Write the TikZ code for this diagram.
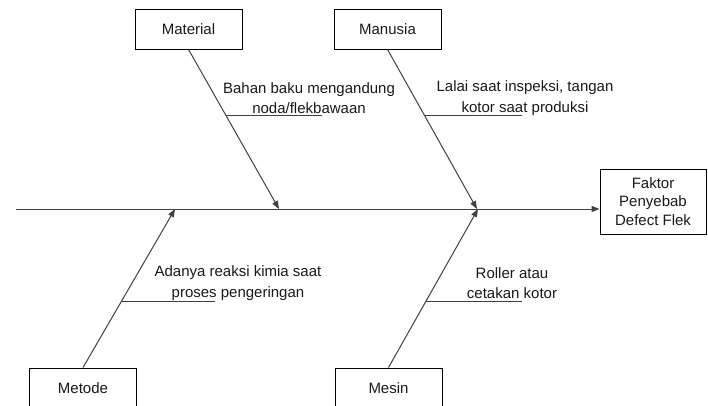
\documentclass[tikz,border=0pt]{standalone}
\usepackage{fontspec}
\setmainfont{Liberation Sans}
\usetikzlibrary{arrows.meta,calc}
\begin{document}
\begin{tikzpicture}[x=1pt,y=-1pt,
  box/.style={draw=black, line width=0.9pt, minimum width=107pt, minimum height=40pt, inner sep=0pt, font=\fontsize{15}{16}\selectfont, text=black!90},
  lbl/.style={align=center, inner sep=0pt, font=\fontsize{15}{20.5}\selectfont, text=black!90},
  bone/.style={draw=black!75, line width=1pt},
  arr/.style={-{Triangle[length=8pt,width=6pt]}}]
\useasboundingbox (0,0) rectangle (708,405);
\clip (0,0) rectangle (708,405);
% boxes
\node[box] (mat) at (188.5,29) {Material};
\node[box] (man) at (387.5,29) {Manusia};
\node[box] (met) at (83,388) {Metode};
\node[box] (mes) at (388.5,388) {Mesin};
\node[box, minimum width=106pt, minimum height=65pt, align=center, font=\fontsize{15}{18.5}\selectfont] (eff) at (653,201.5) {Faktor\\Penyebab\\Defect Flek};
% spine
\coordinate (s0) at (16,209);
\draw[bone, arr] (s0) -- (eff.west |- s0);
% tips on spine
\coordinate (t1) at (279,209);
\coordinate (t2) at (477,209);
\coordinate (t3) at (175,209);
\coordinate (t4) at (478,209);
\draw[bone, arr] (mat.south) -- (t1);
\draw[bone, arr] (man.south) -- (t2);
\draw[bone, arr] (met.north) -- (t3);
\draw[bone, arr] (mes.north) -- (t4);
% sub-branches
\coordinate (u1) at ($(mat.south)!0.4125!(t1)$);
\coordinate (u2) at ($(man.south)!0.4125!(t2)$);
\coordinate (u3) at ($(met.north)!0.415!(t3)$);
\coordinate (u4) at ($(mes.north)!0.415!(t4)$);
\coordinate (e1) at (322,115);
\coordinate (e2) at (522,115);
\coordinate (e3) at (215,302);
\coordinate (e4) at (522,302);
\draw[bone] (u1) -- (e1 |- u1);
\draw[bone] (u2) -- (e2 |- u2);
\draw[bone] (u3) -- (e3 |- u3);
\draw[bone] (u4) -- (e4 |- u4);
% labels
\node[lbl] (l1) at (309,98) {Bahan baku mengandung\\noda/flekbawaan};
\node[lbl] (l2) at (525,98) {Lalai saat inspeksi, tangan\\kotor saat produksi};
\node[lbl] (l3) at (238,283) {Adanya reaksi kimia saat\\proses pengeringan};
\node[lbl] (l4) at (512,283) {Roller atau\\cetakan kotor};
\end{tikzpicture}
\end{document}
